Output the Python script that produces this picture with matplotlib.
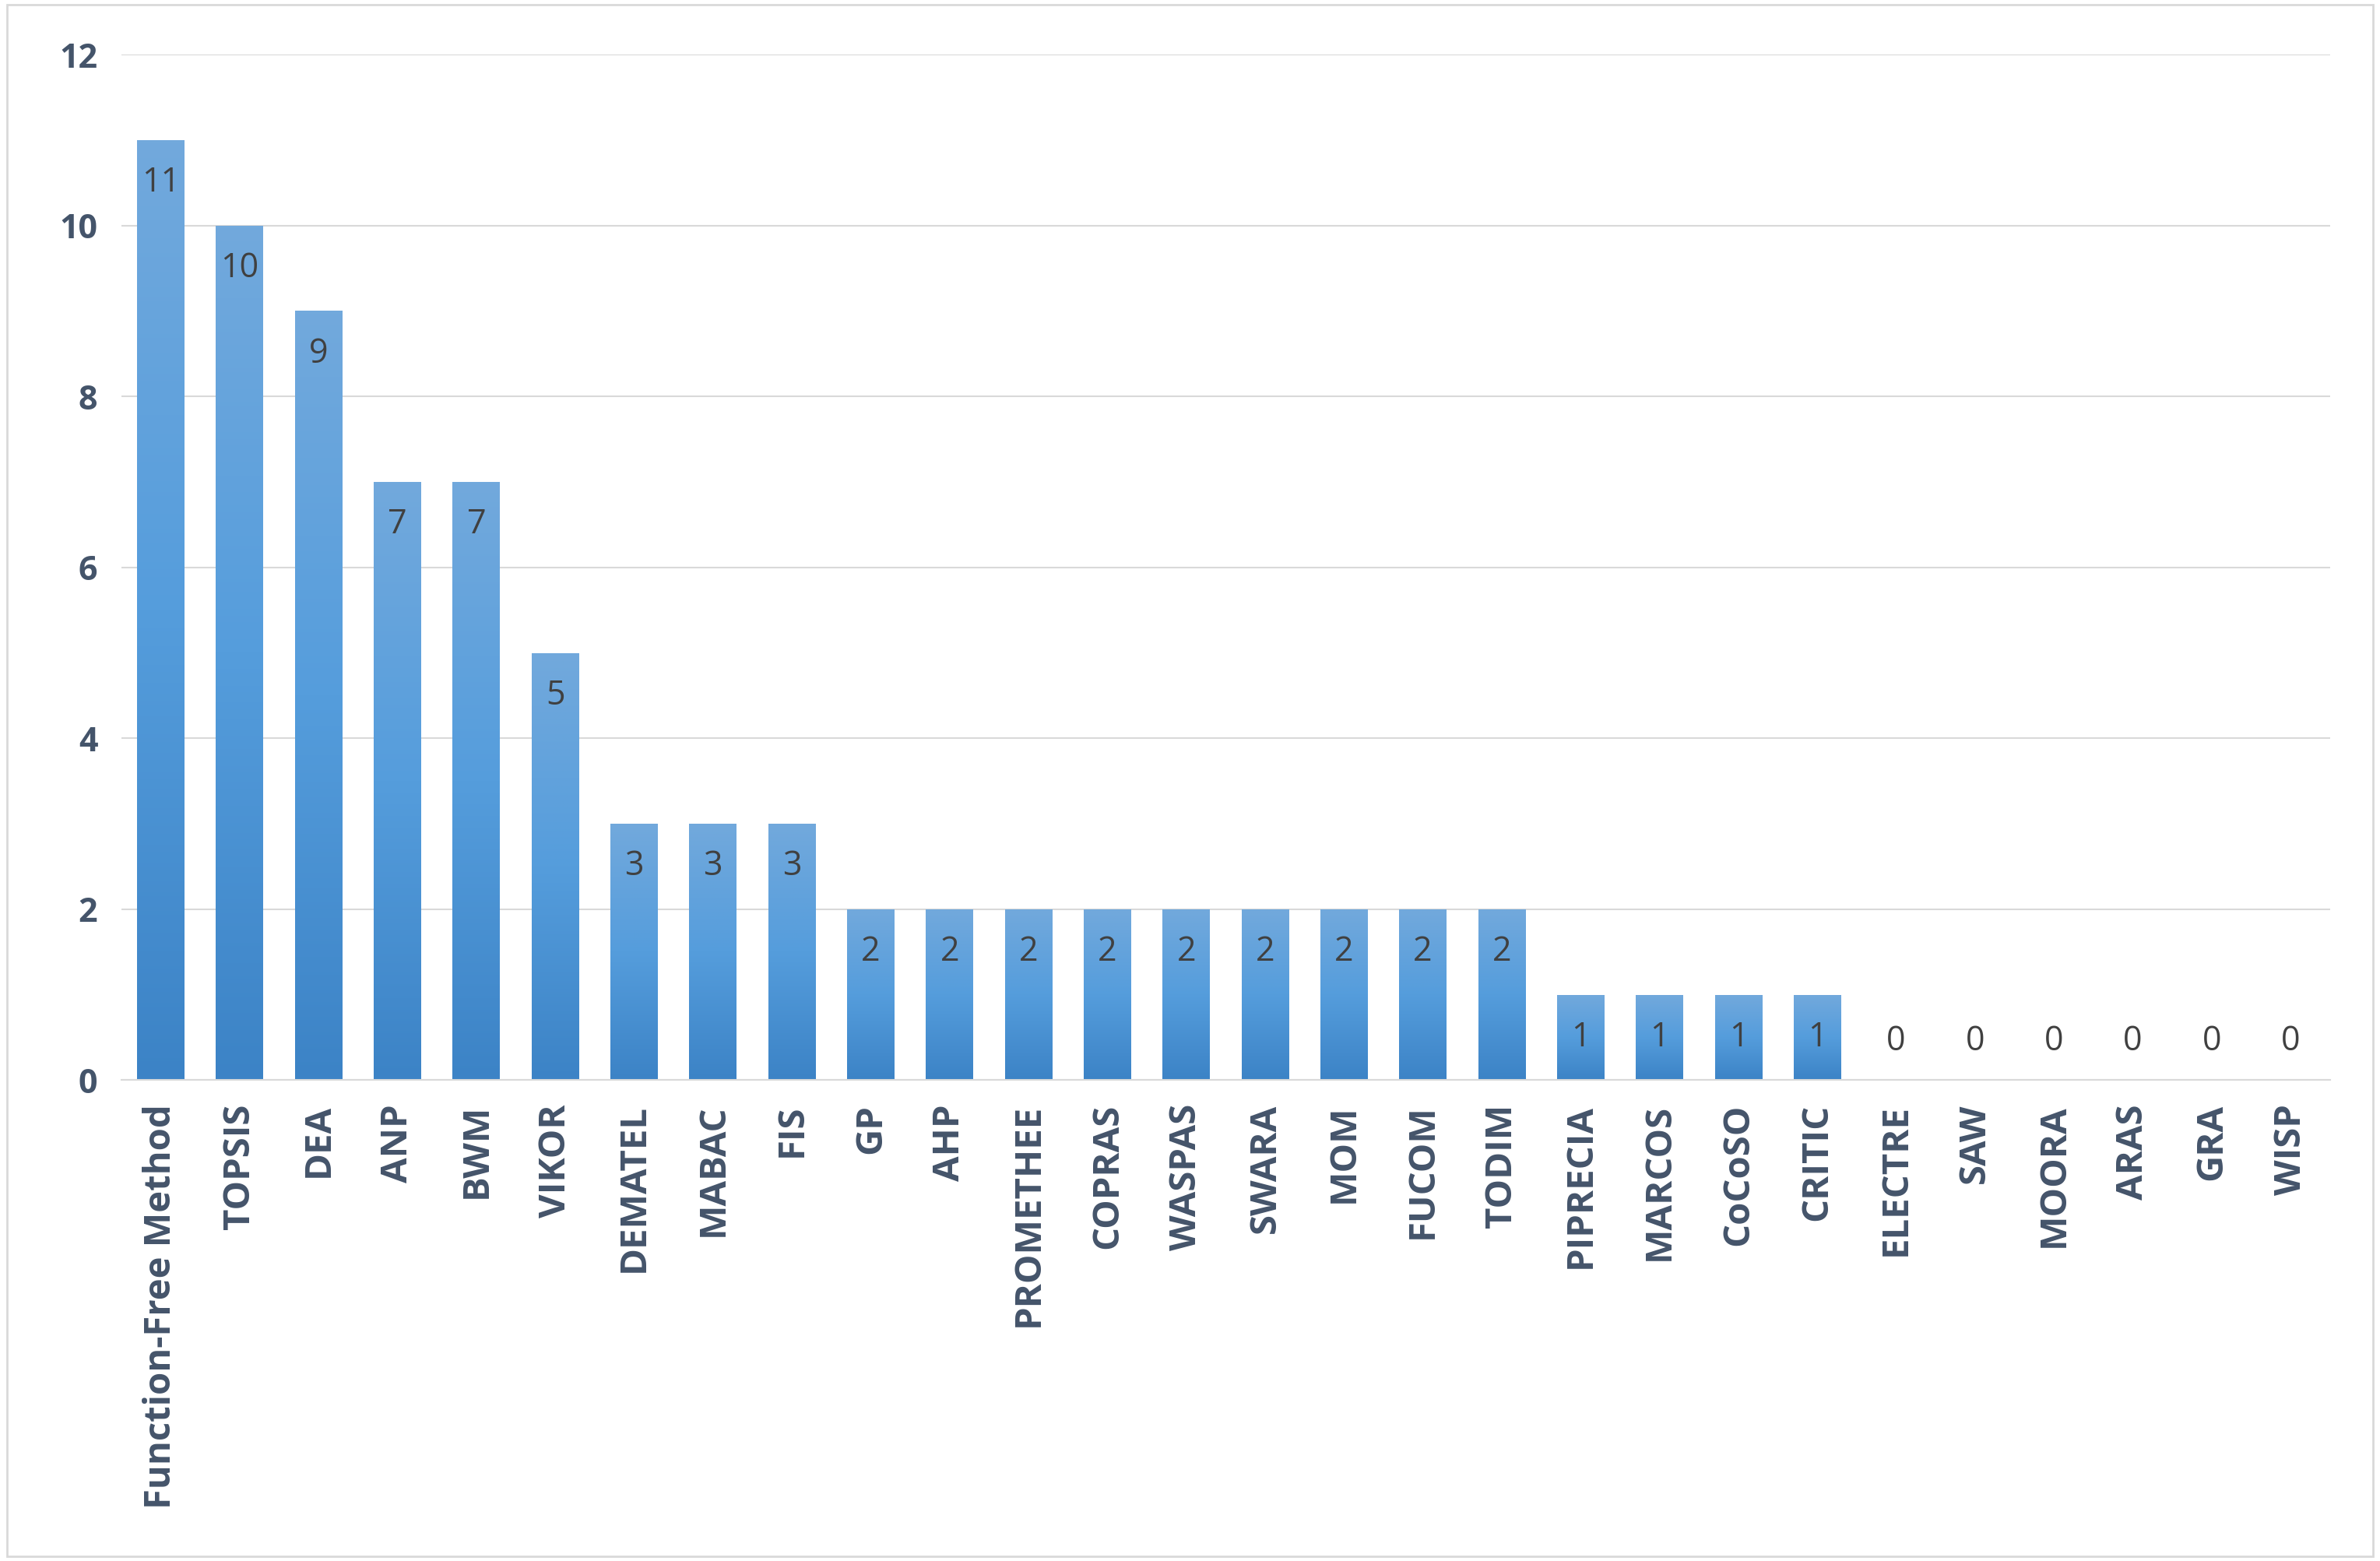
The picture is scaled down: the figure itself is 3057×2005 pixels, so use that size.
import numpy as np
import matplotlib.pyplot as plt
from matplotlib.patches import Rectangle
from matplotlib.colors import LinearSegmentedColormap

methods = ["Function-Free Method", "TOPSIS", "DEA", "ANP", "BWM", "VIKOR", "DEMATEL",
           "MABAC", "FIS", "GP", "AHP", "PROMETHEE", "COPRAS", "WASPAS", "SWARA", "MOM",
           "FUCOM", "TODIM", "PIPRECIA", "MARCOS", "CoCoSO", "CRITIC", "ELECTRE", "SAW",
           "MOORA", "ARAS", "GRA", "WISP"]
counts = [11, 10, 9, 7, 7, 5, 3, 3, 3, 2, 2, 2, 2, 2, 2, 2, 2, 2, 1, 1, 1, 1, 0, 0, 0, 0, 0, 0]

plt.rcParams["font.family"] = ["Open Sans", "DejaVu Sans"]

fig = plt.figure(figsize=(30.57, 20.05), dpi=100)
ax = fig.add_axes([0.051, 0.308, 0.928, 0.657])

x = np.arange(len(methods))
bars = ax.bar(x, counts, width=0.6, color="none")

# vertical gradient in each bar: lighter at top, darker at bottom
grad = np.linspace(0, 1, 256).reshape(-1, 1)
cmap = LinearSegmentedColormap.from_list("g", ["#3c83c6", "#559ddc", "#72a9dc"])
for b in bars:
    h = b.get_height()
    if h <= 0:
        continue
    x0 = b.get_x()
    w = b.get_width()
    im = ax.imshow(grad, extent=[x0, x0 + w, 0, h], origin="lower", cmap=cmap,
                   aspect="auto", zorder=2)
    im.set_clip_path(Rectangle((x0, 0), w, h, transform=ax.transData))

for xi, v in zip(x, counts):
    ax.text(xi, v - 0.5 if v > 0 else 0.45, str(v), ha="center", va="center",
            fontsize=31, color="#404040", zorder=3)

ax.set_xlim(-0.5, len(methods) - 0.5)
ax.set_ylim(0, 12)
ax.set_yticks(range(0, 13, 2))
ax.yaxis.grid(True, color="#d9d9d9", linewidth=1.5)
ax.set_axisbelow(True)
ax.set_xticks(x)
ax.set_xticklabels(methods, rotation=90, fontsize=34, fontweight="bold", color="#44546a")
for lab in ax.get_yticklabels():
    lab.set_fontsize(31)
    lab.set_fontweight("bold")
    lab.set_color("#44546a")
ax.tick_params(length=0, pad=22)
for s in ["top", "right", "left"]:
    ax.spines[s].set_visible(False)
ax.spines["bottom"].set_color("#d9d9d9")
ax.spines["bottom"].set_linewidth(1.5)

fig.patches.append(Rectangle((0.003, 0.003), 0.994, 0.994, transform=fig.transFigure,
                             fill=False, edgecolor="#d9d9d9", linewidth=2))

fig.savefig("out.png", dpi=100)
